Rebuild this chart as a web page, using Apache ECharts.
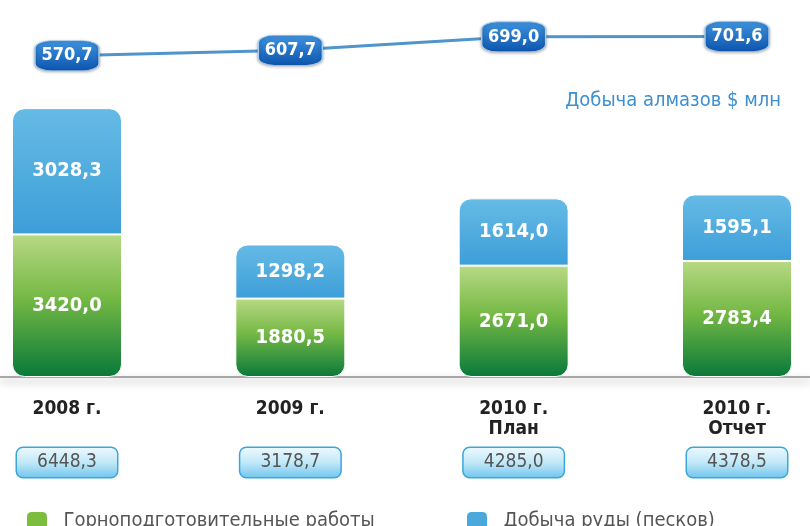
<!DOCTYPE html>
<html>
<head>
<meta charset="utf-8">
<script src="https://cdn.jsdelivr.net/npm/echarts@6/dist/echarts.min.js"></script>
<style>
  html, body { margin: 0; padding: 0; background: #fff; }
  #main { width: 810px; height: 526px; }
</style>
</head>
<body>
<div id="main"></div>
<script>
// годы / данные
var years = ['2008 г.', '2009 г.', '2010 г.\nПлан', '2010 г.\nОтчет'];
var prepWork = [3420.0, 1880.5, 2671.0, 2783.4];   // Горноподготовительные работы
var oreMining = [3028.3, 1298.2, 1614.0, 1595.1];  // Добыча руды (песков)
var totals = [6448.3, 3178.7, 4285.0, 4378.5];
var diamonds = [570.7, 607.7, 699.0, 701.6];       // Добыча алмазов $ млн

var FONT = "'DejaVu Sans Condensed', 'Liberation Sans Narrow', 'Open Sans', sans-serif";

function fmt(v) {
    return v.toFixed(1).replace('.', ',');
}

var legendText = { color: '#555', fontSize: 20, fontFamily: FONT };

var myChart = echarts.init(document.getElementById('main'));
myChart.setOption({
    backgroundColor: '#fff',
    animation: false,
    title: {
        text: 'Добыча алмазов $ млн',
        right: 24,
        top: 86,
        textStyle: { color: '#3c8fd0', fontSize: 20, fontWeight: 'normal', fontFamily: FONT }
    },
    legend: [
        {
            left: 22, top: 506, itemWidth: 20, itemHeight: 18, icon: 'roundRect',
            formatter: '  {name}',
            itemStyle: { borderWidth: 0, color: '#7cbd3e' },
            textStyle: legendText,
            data: ['Горноподготовительные работы']
        },
        {
            left: 462, top: 506, itemWidth: 20, itemHeight: 18, icon: 'roundRect',
            formatter: '  {name}',
            itemStyle: { borderWidth: 0, color: '#4aa8dc' },
            textStyle: legendText,
            data: ['Добыча руды (песков)']
        }
    ],
    grid: [
        { left: 67, right: 73, top: 106, bottom: 149 },
        { left: 67, right: 73, top: 22, height: 50 },
        { left: 0, right: 0, top: 106, bottom: 149 }
    ],
    xAxis: [
        {
            type: 'category',
            gridIndex: 0,
            boundaryGap: false,
            data: years,
            axisLine: { show: false },
            axisTick: { show: false },
            axisLabel: {
                margin: 22,
                color: '#222',
                fontWeight: 'bold',
                fontSize: 19,
                lineHeight: 20,
                fontFamily: FONT
            }
        },
        {
            type: 'category',
            gridIndex: 0,
            boundaryGap: false,
            position: 'bottom',
            offset: 63,
            data: totals.map(fmt),
            axisLine: { show: false },
            axisTick: { show: false },
            axisLabel: {
                margin: 8,
                formatter: '{t|{value}}',
                rich: {
                    t: {
                        color: '#555',
                        fontSize: 19,
                        fontFamily: FONT,
                        width: 76,
                        align: 'center',
                        padding: [5, 12, 5, 12],
                        borderRadius: 6,
                        borderColor: '#3aa6dc',
                        borderWidth: 1.5,
                        backgroundColor: {
                            type: 'linear', x: 0, y: 0, x2: 0, y2: 1,
                            colorStops: [
                                { offset: 0, color: '#effafe' },
                                { offset: 0.5, color: '#c2e8f8' },
                                { offset: 1, color: '#6ec4ee' }
                            ]
                        }
                    }
                }
            }
        },
        {
            type: 'category',
            gridIndex: 1,
            boundaryGap: false,
            data: years,
            show: false
        },
        {
            // полоса-основание на всю ширину
            type: 'category',
            gridIndex: 2,
            data: years,
            axisLine: {
                lineStyle: {
                    color: '#a8a8a8', width: 2,
                    shadowBlur: 8, shadowColor: 'rgba(0,0,0,0.35)', shadowOffsetY: 4
                }
            },
            axisTick: { show: false },
            axisLabel: { show: false }
        }
    ],
    yAxis: [
        { type: 'value', gridIndex: 0, min: 0, max: 6500, show: false },
        { type: 'value', gridIndex: 1, min: 460, max: 800, show: false },
        { type: 'value', gridIndex: 2, min: 0, max: 6500, show: false }
    ],
    series: [
        {
            name: 'Горноподготовительные работы',
            type: 'bar',
            stack: 'total',
            xAxisIndex: 0,
            yAxisIndex: 0,
            barWidth: 110,
            data: prepWork,
            itemStyle: {
                borderRadius: [0, 0, 12, 12],
                borderColor: '#fff',
                borderWidth: 1,
                color: {
                    type: 'linear', x: 0, y: 0, x2: 0, y2: 1,
                    colorStops: [
                        { offset: 0, color: '#b8d985' },
                        { offset: 0.45, color: '#74b844' },
                        { offset: 1, color: '#08793a' }
                    ]
                }
            },
            label: {
                show: true,
                position: 'inside',
                formatter: function (p) { return fmt(p.value); },
                color: '#fff',
                fontWeight: 'bold',
                fontSize: 20,
                fontFamily: FONT
            }
        },
        {
            name: 'Добыча руды (песков)',
            type: 'bar',
            stack: 'total',
            xAxisIndex: 0,
            yAxisIndex: 0,
            barWidth: 110,
            data: oreMining,
            itemStyle: {
                borderRadius: [12, 12, 0, 0],
                borderColor: '#fff',
                borderWidth: 1,
                color: {
                    type: 'linear', x: 0, y: 0, x2: 0, y2: 1,
                    colorStops: [
                        { offset: 0, color: '#66bbe5' },
                        { offset: 1, color: '#3d9ed8' }
                    ]
                }
            },
            label: {
                show: true,
                position: 'inside',
                formatter: function (p) { return fmt(p.value); },
                color: '#fff',
                fontWeight: 'bold',
                fontSize: 20,
                fontFamily: FONT
            }
        },
        {
            name: 'Добыча алмазов $ млн',
            type: 'line',
            xAxisIndex: 2,
            yAxisIndex: 1,
            data: diamonds,
            symbol: 'roundRect',
            symbolSize: [64, 30],
            lineStyle: { color: '#4f95cc', width: 3 },
            itemStyle: {
                borderColor: '#a9cdee',
                borderWidth: 1,
                shadowBlur: 3,
                shadowColor: 'rgba(0,0,0,0.3)',
                shadowOffsetY: 1,
                color: {
                    type: 'linear', x: 0, y: 0, x2: 0, y2: 1,
                    colorStops: [
                        { offset: 0, color: '#3f93de' },
                        { offset: 1, color: '#0c55ad' }
                    ]
                }
            },
            label: {
                show: true,
                position: 'inside',
                formatter: function (p) { return fmt(p.value); },
                color: '#fff',
                fontWeight: 'bold',
                fontSize: 18,
                fontFamily: FONT
            }
        }
    ]
});
</script>
</body>
</html>
